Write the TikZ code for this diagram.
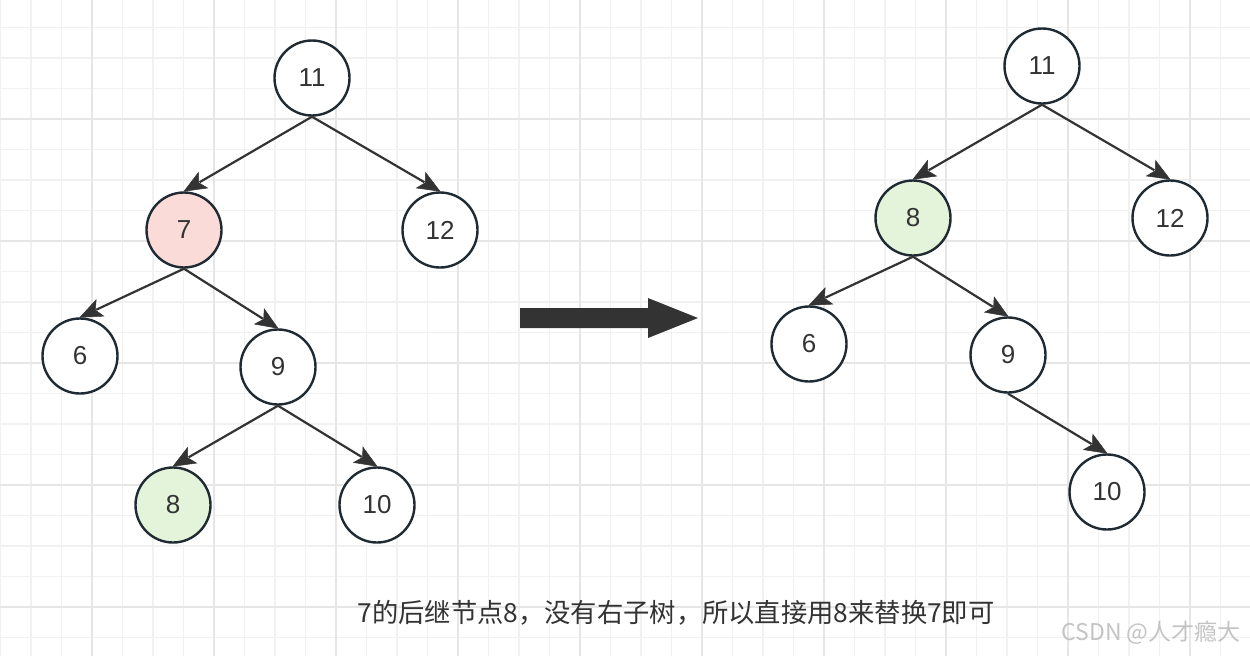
\documentclass[tikz,border=0pt]{standalone}
\usepackage{fontspec}
\setmainfont{Liberation Sans}
\newfontfamily\cjk{Noto Sans CJK SC}
\usetikzlibrary{arrows.meta,calc}
\definecolor{edgec}{HTML}{333333}
\definecolor{ringc}{HTML}{1F2A33}
\definecolor{pinkf}{HTML}{FADBD8}
\definecolor{greenf}{HTML}{E3F4DA}
\definecolor{gridminor}{HTML}{F1F1F1}
\definecolor{gridmajor}{HTML}{E6E6E6}
\definecolor{wmark}{HTML}{C4C4C4}
\begin{document}
\begin{tikzpicture}[x=1pt,y=-1pt,
  nd/.style={circle,draw=ringc,line width=2.4pt,fill=white,minimum size=75pt,inner sep=0pt,
    font=\fontsize{26}{30}\selectfont,text=edgec},
  pinknd/.style={nd,fill=pinkf},
  greennd/.style={nd,fill=greenf},
  tipc/.style={fill=edgec,draw=edgec,line width=0.5pt,line join=miter},
  edge/.style={draw=edgec,line width=2.2pt},
  minorline/.style={draw=gridminor,line width=1.1pt},
  majorline/.style={draw=gridmajor,line width=1.6pt}]
\useasboundingbox (0,0) rectangle (1250,656);
\fill[white] (0,0) rectangle (1250,656);
% grid
\foreach \k in {0,...,41} {
  \draw[minorline] ({0.5+30.5*\k},0) -- ({0.5+30.5*\k},656);
}
\foreach \k in {0,...,22} {
  \draw[minorline] (0,{-3+30.5*\k}) -- (1250,{-3+30.5*\k});
}
\foreach \m in {0,...,9} {
  \draw[majorline] ({92+122*\m},0) -- ({92+122*\m},656);
}
\foreach \m in {1,...,5} {
  \draw[majorline] (0,{-3+122*\m}) -- (1250,{-3+122*\m});
}
% left tree
\node[nd] (a11) at (312,78) {11};
\node[pinknd] (a7) at (184,230) {7};
\node[nd] (a12) at (440,230) {12};
\node[nd] (a6) at (80,356) {6};
\node[nd] (a9) at (278,367) {9};
\node[greennd] (a8) at (173,505) {8};
\node[nd] (a10) at (377,505) {10};
% right tree
\node[nd] (b11) at (1042,66) {11};
\node[greennd] (b8) at (913,218) {8};
\node[nd] (b12) at (1170,218) {12};
\node[nd] (b6) at (809,344) {6};
\node[nd] (b9) at (1008,355) {9};
\node[nd] (b10) at (1107,492) {10};
% edges with drawn arrowheads
\foreach \p/\c in {a11/a7,a11/a12,a7/a6,a7/a9,a9/a8,a9/a10,b11/b8,b11/b12,b8/b6,b8/b9,b9/b10} {
  \path (\p.south) coordinate (s) (\c.north) coordinate (t);
  \draw[edge] (s) -- ($(t)!18pt!(s)$);
  \fill[tipc] (t) -- ($(t)!22pt!(s)!9pt!90:(s)$) -- ($(t)!17pt!(s)$) -- ($(t)!22pt!(s)!9pt!-90:(s)$) -- cycle;
}
% big arrow
\fill[edgec] (520,308) -- (648,308) -- (648,298) -- (698,318) -- (648,338) -- (648,328) -- (520,328) -- cycle;
% caption
\node[font=\cjk\fontsize{26.3}{30}\selectfont,text=edgec,inner sep=0pt] (cap) at (676,613) {7的后继节点8，没有右子树，所以直接用8来替换7即可};
\node[font=\cjk\fontsize{23}{26}\selectfont,text=wmark,inner sep=0pt] (wm) at (1151,633) {CSDN @人才瘾大};
\end{tikzpicture}
\end{document}
